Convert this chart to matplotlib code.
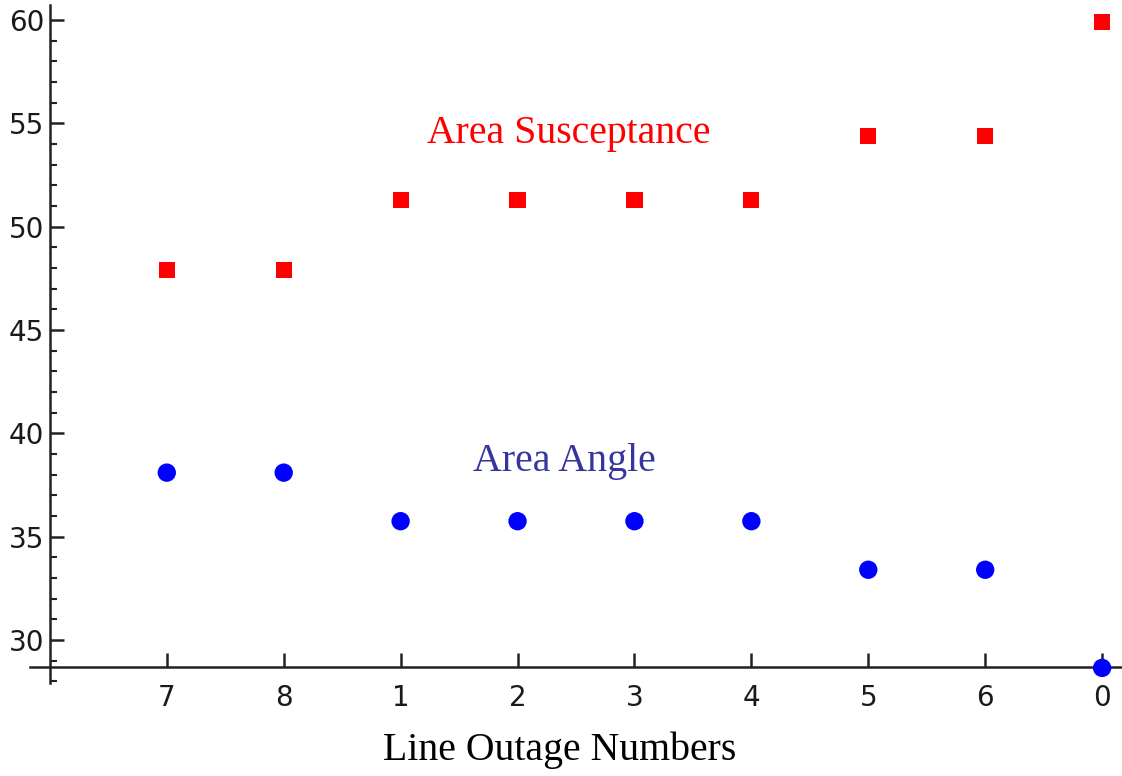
import matplotlib.pyplot as plt
from matplotlib.ticker import MultipleLocator

# line outage order, left to right
outage_labels = ["7", "8", "1", "2", "3", "4", "5", "6", "0"]
susceptance = [47.9, 47.9, 51.3, 51.3, 51.3, 51.3, 54.4, 54.4, 59.9]
angle = [38.1, 38.1, 35.75, 35.75, 35.75, 35.75, 33.4, 33.4, 28.65]

pos = list(range(1, len(outage_labels) + 1))

fig = plt.figure(figsize=(11.22, 7.76), dpi=100)
ax = fig.add_axes([30 / 1122, 93 / 776, 1 - 30 / 1122, (683 - 5) / 776])

ax.scatter(pos, susceptance, marker="s", s=135, color="#ff0000", edgecolors="none", zorder=3)
ax.scatter(pos, angle, marker="o", s=175, color="#0000ff", edgecolors="none", zorder=3)

ax.set_xlim(-0.17, 9.17)
ax.set_ylim(27.92, 60.73)

# Mathematica-style crossing axes
for side in ["top", "right"]:
    ax.spines[side].set_visible(False)
ax.spines["left"].set_position(("data", 0))
ax.spines["bottom"].set_position(("data", 28.69))
for side in ["left", "bottom"]:
    ax.spines[side].set_linewidth(1.8)
    ax.spines[side].set_color("#222222")

ax.set_xticks(pos)
ax.set_xticklabels(outage_labels)
ax.set_yticks([30, 35, 40, 45, 50, 55, 60])
ax.yaxis.set_minor_locator(MultipleLocator(1))

ax.tick_params(axis="x", direction="in", length=10, width=1.8, pad=12, labelsize=20, color="#222222")
ax.tick_params(axis="y", which="major", direction="in", length=10, width=1.8, pad=4,
               labelsize=20, color="#222222")
ax.tick_params(axis="y", which="minor", direction="in", length=5, width=1.5, color="#222222")
for lab in ax.get_xticklabels() + ax.get_yticklabels():
    lab.set_fontfamily("DejaVu Sans")
    lab.set_color("#1a1a1a")

ax.text(4.44, 54.53, "Area Susceptance", color="#ff0000", fontsize=28.6,
        family="Liberation Serif", ha="center", va="center")
ax.text(4.40, 38.62, "Area Angle", color="#3535a0", fontsize=28.8,
        family="Liberation Serif", ha="center", va="center")

fig.text(560 / 1122, 1 - 750 / 776, "Line Outage Numbers", fontsize=28.6,
         family="Liberation Serif", ha="center", va="center")

fig.savefig("out.png", dpi=100)
